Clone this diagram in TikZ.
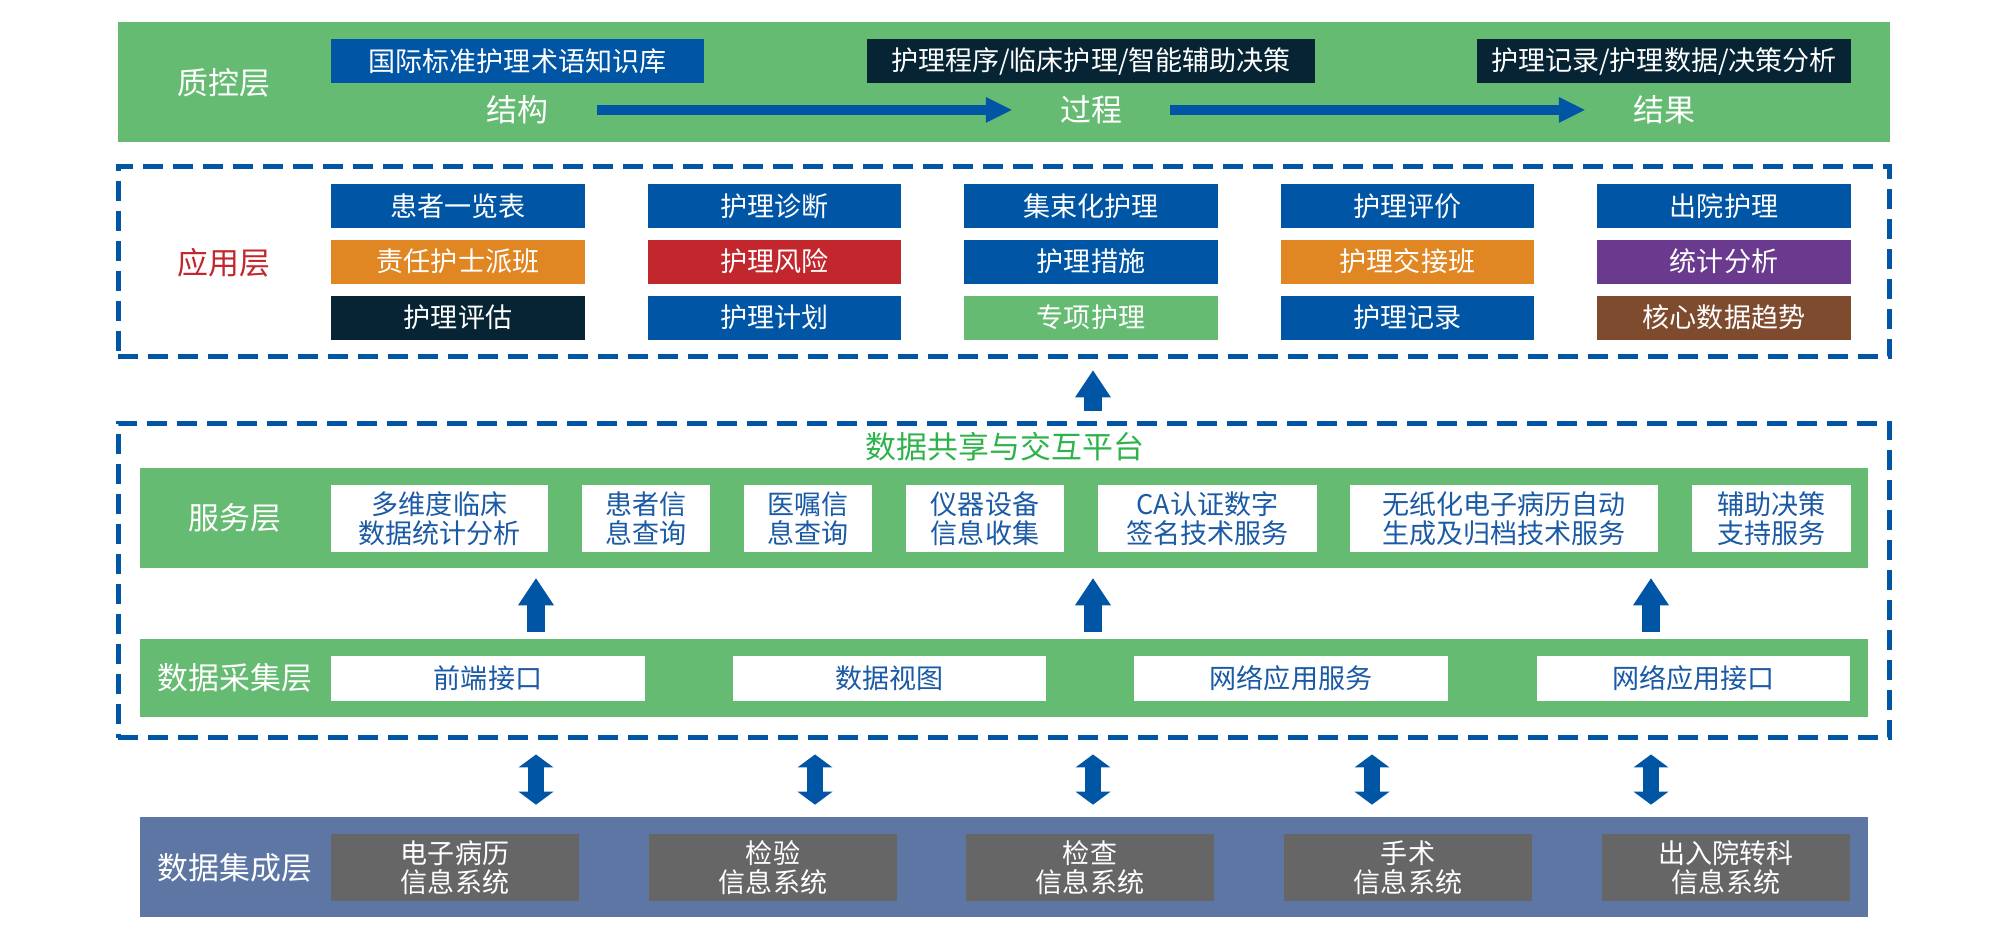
\documentclass[tikz,border=0pt]{standalone}
\usepackage{fontspec}
\setmainfont{Noto Sans CJK SC}
\usetikzlibrary{arrows.meta}
\definecolor{lgreen}{HTML}{66BB73}
\definecolor{mblue}{HTML}{0055A5}
\definecolor{navy}{HTML}{062433}
\definecolor{orng}{HTML}{E08623}
\definecolor{rred}{HTML}{C1272D}
\definecolor{purp}{HTML}{6A3A8F}
\definecolor{brwn}{HTML}{7F4B2F}
\definecolor{slate}{HTML}{5E76A3}
\definecolor{sgrey}{HTML}{666666}
\definecolor{tgreen}{HTML}{2DB34A}
\definecolor{tblue}{HTML}{1B5AA5}

\begin{document}
\begin{tikzpicture}[x=0.02cm,y=-0.02cm,
   band/.style={inner sep=0,minimum width=34.56cm},
   dashbox/.style={draw=mblue,line width=0.1cm,dash pattern=on 0.4cm off 0.2cm,minimum width=35.44cm,inner sep=0},
   lab/.style={inner sep=0,text=white,font=\fontsize{17.6}{20}\selectfont},
   tbox/.style={inner sep=0,minimum height=0.88cm,text=white,font=\fontsize{15.4}{17}\selectfont},
   appbox/.style={tbox,minimum width=5.08cm},
   svcbox/.style={fill=white,inner sep=0,minimum height=1.33cm,text=tblue,align=center,font=\fontsize{15.4}{16.5}\selectfont},
   acqbox/.style={fill=white,inner sep=0,minimum width=6.28cm,minimum height=0.9cm,text=tblue,font=\fontsize{15.4}{17}\selectfont},
   sysbox/.style={fill=sgrey,inner sep=0,minimum width=4.98cm,minimum height=1.34cm,text=white,align=center,font=\fontsize{15.4}{16.5}\selectfont},
   flow/.style={color=mblue,line width=0.2cm,-{Triangle[width=0.52cm,length=0.52cm,line width=0pt]},shorten <=0.96cm,shorten >=0.96cm},
   uparr/.style={color=mblue,line width=0.36cm,-{Triangle[width=0.72cm,length=0.54cm,line width=0pt]}},
   dblarr/.style={color=mblue,line width=0.32cm,{Triangle[width=0.7cm,length=0.26cm,line width=0pt]}-{Triangle[width=0.7cm,length=0.26cm,line width=0pt]},shorten <=0.28cm,shorten >=0.24cm}]

   \useasboundingbox (0,0) rectangle (2009,935);

   \node[band,fill=lgreen,minimum width=35.44cm,minimum height=2.4cm] (qc) at (1004,82) {};
   \node[lab] (qcl) at (224,83) {质控层};
   \node[tbox,fill=mblue,minimum width=7.46cm] (std) at (517.5,61.3) {国际标准护理术语知识库};
   \node[tbox,fill=navy,minimum width=8.96cm] (proc) at (1091,61.3) {护理程序/临床护理/智能辅助决策};
   \node[tbox,fill=navy,minimum width=7.48cm] (res) at (1664,61.3) {护理记录/护理数据/决策分析};
   \node[lab] (jg) at (517.5,110) {结构};
   \node[lab] (gc) at (1091,110) {过程};
   \node[lab] (jgu) at (1664,110) {结果};
   \draw[flow] (jg) -- (gc);
   \draw[flow] (gc) -- (jgu);

   \node[dashbox,minimum height=3.82cm] (app) at (1004,261.5) {};
   \node[lab,text=rred] (appl) at (224,263) {应用层};
   \node[appbox,fill=mblue] (a11) at (458,206) {患者一览表};
   \node[appbox,fill=orng] (a12) at (458,261.6) {责任护士派班};
   \node[appbox,fill=navy] (a13) at (458,317.6) {护理评估};
   \node[appbox,fill=mblue] (a21) at (774.5,206) {护理诊断};
   \node[appbox,fill=rred] (a22) at (774.5,261.6) {护理风险};
   \node[appbox,fill=mblue] (a23) at (774.5,317.6) {护理计划};
   \node[appbox,fill=mblue] (a31) at (1091,206) {集束化护理};
   \node[appbox,fill=mblue] (a32) at (1091,261.6) {护理措施};
   \node[appbox,fill=lgreen] (a33) at (1091,317.6) {专项护理};
   \node[appbox,fill=mblue] (a41) at (1407.5,206) {护理评价};
   \node[appbox,fill=orng] (a42) at (1407.5,261.6) {护理交接班};
   \node[appbox,fill=mblue] (a43) at (1407.5,317.6) {护理记录};
   \node[appbox,fill=mblue] (a51) at (1724,206) {出院护理};
   \node[appbox,fill=purp] (a52) at (1724,261.6) {统计分析};
   \node[appbox,fill=brwn] (a53) at (1724,317.6) {核心数据趋势};

   \node[dashbox,minimum height=6.3cm] (plat) at (1004,580.5) {};
   \node[lab,text=tgreen] (platl) at (1005,447) {数据共享与交互平台};

   \node[band,fill=lgreen,minimum height=2cm] (svc) at (1004,518) {};
   \node[lab] (svcl) at (235,518) {服务层};
   \node[svcbox,minimum width=4.34cm] (s1) at (439.5,518.3) {多维度临床\\数据统计分析};
   \node[svcbox,minimum width=2.56cm] (s2) at (646,518.3) {患者信\\息查询};
   \node[svcbox,minimum width=2.56cm] (s3) at (808,518.3) {医嘱信\\息查询};
   \node[svcbox,minimum width=3.16cm] (s4) at (985,518.3) {仪器设备\\信息收集};
   \node[svcbox,minimum width=4.38cm] (s5) at (1207.5,518.3) {CA认证数字\\签名技术服务};
   \node[svcbox,minimum width=6.16cm] (s6) at (1504,518.3) {无纸化电子病历自动\\生成及归档技术服务};
   \node[svcbox,minimum width=3.18cm] (s7) at (1771.5,518.3) {辅助决策\\支持服务};

   \node[band,fill=lgreen,minimum height=1.56cm] (acq) at (1004,678) {};
   \node[lab] (acql) at (235,678) {数据采集层};
   \node[acqbox] (c1) at (488,678.4) {前端接口};
   \node[acqbox] (c2) at (889.5,678.4) {数据视图};
   \node[acqbox] (c3) at (1291,678.4) {网络应用服务};
   \node[acqbox] (c4) at (1693.5,678.4) {网络应用接口};

   \node[band,fill=slate,minimum height=2cm] (integ) at (1004,867) {};
   \node[lab] (integl) at (235,868) {数据集成层};
   \node[sysbox] (y1) at (455,867.4) {电子病历\\信息系统};
   \node[sysbox] (y2) at (773,867.4) {检验\\信息系统};
   \node[sysbox] (y3) at (1090,867.4) {检查\\信息系统};
   \node[sysbox] (y4) at (1408,867.4) {手术\\信息系统};
   \node[sysbox] (y5) at (1726,867.4) {出入院转科\\信息系统};

   \coordinate (ax1) at (536,0);
   \coordinate (ax2) at (815,0);
   \coordinate (ax3) at (1093,0);
   \coordinate (ax4) at (1372,0);
   \coordinate (ax5) at (1651,0);

   \draw[uparr,shorten <=0.2cm,shorten >=0.22cm] (plat.north -| ax3) -- (app.south -| ax3);
   \draw[uparr,shorten <=0.14cm,shorten >=0.2cm] (acq.north -| ax1) -- (svc.south -| ax1);
   \draw[uparr,shorten <=0.14cm,shorten >=0.2cm] (acq.north -| ax3) -- (svc.south -| ax3);
   \draw[uparr,shorten <=0.14cm,shorten >=0.2cm] (acq.north -| ax5) -- (svc.south -| ax5);

   \draw[dblarr] (plat.south -| ax1) -- (integ.north -| ax1);
   \draw[dblarr] (plat.south -| ax2) -- (integ.north -| ax2);
   \draw[dblarr] (plat.south -| ax3) -- (integ.north -| ax3);
   \draw[dblarr] (plat.south -| ax4) -- (integ.north -| ax4);
   \draw[dblarr] (plat.south -| ax5) -- (integ.north -| ax5);
\end{tikzpicture}
\end{document}
